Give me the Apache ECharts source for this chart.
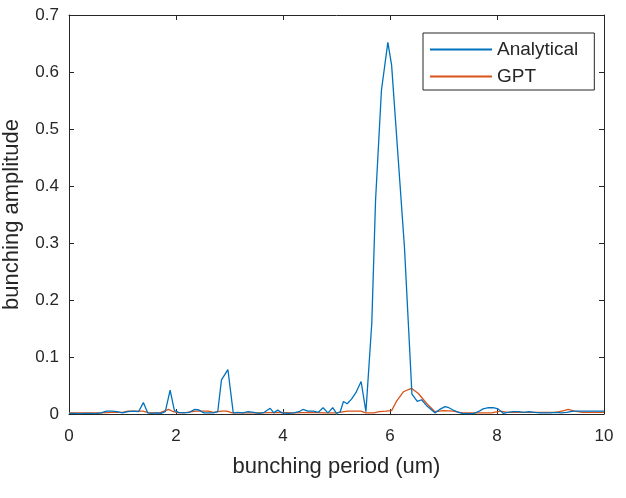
<!DOCTYPE html>
<html>
<head>
<meta charset="utf-8">
<script src="https://cdn.jsdelivr.net/npm/echarts@6/dist/echarts.min.js"></script>
<style>html,body{margin:0;padding:0;background:#fff}#c{width:626px;height:498px}</style>
</head>
<body>
<div id="c"></div>
<script>
const xTicks = [0, 2, 4, 6, 8, 10];
const yTicks = [0, 0.1, 0.2, 0.3, 0.4, 0.5, 0.6, 0.7];
const seriesNames = ['Analytical', 'GPT'];

const analyticalX = [0,0.1,0.2,0.3,0.4,0.5,0.6,0.7,0.8,0.9,1.0,1.1,1.2,1.3,1.39,1.47,1.55,1.65,1.72,1.8,1.89,1.97,2.05,2.15,2.25,2.35,2.43,2.52,2.6,2.7,2.78,2.85,2.97,3.07,3.15,3.25,3.35,3.45,3.55,3.65,3.76,3.83,3.9,3.98,4.1,4.2,4.3,4.37,4.47,4.57,4.66,4.75,4.84,4.93,5.0,5.07,5.13,5.2,5.28,5.36,5.46,5.55,5.66,5.73,5.84,5.96,6.03,6.27,6.41,6.51,6.59,6.68,6.84,6.93,7.03,7.1,7.18,7.28,7.37,7.47,7.56,7.65,7.74,7.84,7.93,8.02,8.12,8.2,8.3,8.4,8.5,8.6,8.7,8.8,8.9,9.0,9.1,9.2,9.3,9.43,9.55,9.7,9.85,10];
const analyticalY = [0.001,0.001,0.0005,0.001,0.001,0.0005,0.002,0.005,0.005,0.004,0.002,0.004,0.005,0.004,0.02,0.002,0.001,0.002,0.001,0.004,0.042,0.006,0.003,0.002,0.003,0.008,0.007,0.002,0.002,0.002,0.004,0.06,0.078,0.002,0.003,0.002,0.004,0.003,0.001,0.003,0.01,0.002,0.007,0.002,0.001,0.002,0.004,0.008,0.005,0.005,0.003,0.011,0.002,0.011,0.001,0.004,0.022,0.018,0.026,0.037,0.057,0.004,0.16,0.375,0.568,0.652,0.612,0.293,0.035,0.022,0.025,0.015,0.002,0.008,0.013,0.011,0.007,0.003,0.0005,0.0005,0.0005,0.004,0.009,0.011,0.011,0.009,0.001,0.003,0.004,0.004,0.003,0.004,0.003,0.002,0.002,0.002,0.003,0.002,0.003,0.005,0.005,0.005,0.005,0.005];

const gptX = [0,0.2,0.4,0.6,0.8,1.0,1.1,1.25,1.38,1.5,1.6,1.7,1.8,1.86,1.95,2.05,2.2,2.37,2.5,2.6,2.7,2.85,2.95,3.05,3.3,3.6,3.9,4.2,4.5,4.8,5.0,5.2,5.35,5.45,5.55,5.7,5.8,5.92,6.03,6.12,6.25,6.4,6.53,6.69,6.84,7.0,7.18,7.35,7.6,7.9,8.06,8.2,8.5,8.8,9.1,9.25,9.33,9.45,9.6,9.8,10];
const gptY = [0.002,0.002,0.002,0.002,0.003,0.003,0.005,0.005,0.005,0.002,0.002,0.002,0.006,0.008,0.004,0.002,0.003,0.005,0.005,0.005,0.003,0.005,0.005,0.002,0.002,0.002,0.003,0.002,0.003,0.002,0.002,0.005,0.005,0.005,0.002,0.002,0.004,0.005,0.006,0.022,0.039,0.045,0.036,0.018,0.004,0.006,0.005,0.002,0.002,0.002,0.005,0.003,0.003,0.003,0.003,0.006,0.008,0.005,0.003,0.003,0.003];

const zip = (xs, ys) => xs.map((x, i) => [x, ys[i]]);
const txt = '#262626';
const ff = '"Liberation Sans", Arial, sans-serif';

const chart = echarts.init(document.getElementById('c'), null, {renderer: 'canvas'});
const tickStyle = {inside: true, length: 5, lineStyle: {color: txt, width: 1}};
const lineStyle = {show: true, onZero: false, lineStyle: {color: txt, width: 1}};
chart.setOption({
  animation: false,
  backgroundColor: '#fff',
  grid: {left: 69, right: 22, top: 15, bottom: 84, containLabel: false, outerBoundsMode: 'none'},
  legend: {
    data: seriesNames,
    orient: 'vertical',
    left: 423, top: 33,
    padding: [7, 16, 4, 7],
    itemGap: 8,
    itemWidth: 62, itemHeight: 2,
    icon: 'rect',
    backgroundColor: '#fff',
    borderColor: txt, borderWidth: 1,
    textStyle: {color: txt, fontSize: 19, fontFamily: ff}
  },
  xAxis: [{
    type: 'value', min: xTicks[0], max: xTicks[xTicks.length - 1], interval: 2,
    name: 'bunching period (um)', nameLocation: 'middle', nameGap: 42,
    nameTextStyle: {color: txt, fontSize: 22, fontFamily: ff},
    axisLine: lineStyle,
    axisTick: tickStyle,
    axisLabel: {color: txt, fontSize: 17, fontFamily: ff, margin: 14},
    splitLine: {show: false}
  }, {
    type: 'value', position: 'top', min: xTicks[0], max: xTicks[xTicks.length - 1], interval: 2,
    axisLine: lineStyle,
    axisTick: tickStyle, axisLabel: {show: false}, splitLine: {show: false}
  }],
  yAxis: [{
    type: 'value', min: yTicks[0], max: yTicks[yTicks.length - 1], interval: 0.1,
    name: 'bunching amplitude', nameLocation: 'middle', nameGap: 46,
    nameTextStyle: {color: txt, fontSize: 22, fontFamily: ff},
    axisLine: lineStyle,
    axisTick: tickStyle,
    axisLabel: {color: txt, fontSize: 17, fontFamily: ff, margin: 10,
      formatter: v => (Math.round(v * 10) / 10).toString()},
    splitLine: {show: false}
  }, {
    type: 'value', position: 'right', min: yTicks[0], max: yTicks[yTicks.length - 1], interval: 0.1,
    axisLine: lineStyle,
    axisTick: tickStyle, axisLabel: {show: false}, splitLine: {show: false}
  }],
  series: [{
    name: seriesNames[0], type: 'line', data: zip(analyticalX, analyticalY),
    symbol: 'none', lineStyle: {color: '#0072BD', width: 1.3}, itemStyle: {color: '#0072BD'}, z: 3
  }, {
    name: seriesNames[1], type: 'line', data: zip(gptX, gptY),
    symbol: 'none', lineStyle: {color: '#D95319', width: 1.3}, itemStyle: {color: '#D95319'}, z: 2
  }]
});
</script>
</body>
</html>
